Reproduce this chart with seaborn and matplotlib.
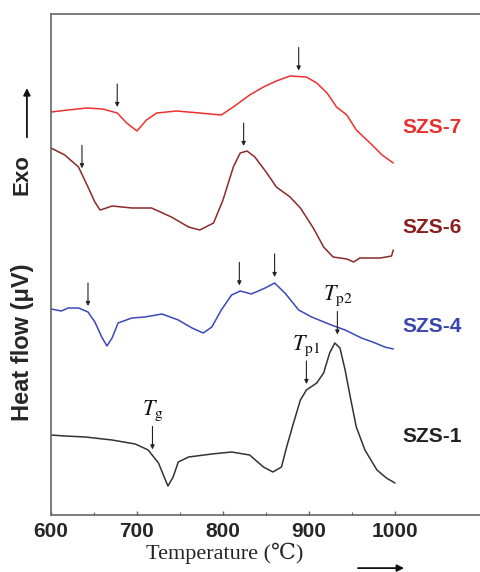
import numpy as np
import pandas as pd
import seaborn as sns
import matplotlib.pyplot as plt

# DSC traces (heat flow in arbitrary offset units)
temp_7 = [600, 620, 642, 660, 677, 688, 700, 711, 723, 746, 773, 798, 812, 831,
          847, 862, 878, 897, 909, 921, 932, 944, 955, 971, 985, 998]
flow_7 = [403, 405, 407, 406, 402, 392, 384, 395, 402, 404, 402, 400, 408, 420,
          428, 434, 439, 438, 432, 422, 408, 400, 385, 372, 360, 352]

temp_6 = [600, 616, 632, 643, 651, 657, 661, 671, 694, 717, 740, 760, 773, 789,
          800, 812, 820, 828, 837, 851, 862, 878, 890, 905, 917, 928, 944, 952,
          959, 983, 996, 998]
flow_6 = [367, 360, 348, 328, 313, 305, 306, 309, 307, 307, 298, 288, 285, 292,
          315, 348, 362, 364, 358, 342, 328, 318, 307, 287, 268, 258, 256, 253,
          257, 257, 259, 265]

temp_4 = [600, 612, 620, 632, 643, 651, 659, 665, 671, 678, 694, 709, 729, 748,
          764, 777, 787, 798, 810, 820, 833, 849, 860, 872, 888, 903, 926, 942,
          961, 977, 988, 998]
flow_4 = [206, 204, 207, 207, 203, 193, 178, 169, 177, 192, 197, 198, 201, 195,
          187, 182, 188, 205, 220, 224, 221, 227, 232, 222, 205, 198, 190, 185,
          177, 172, 168, 166]

temp_1 = [600, 616, 640, 671, 698, 713, 725, 733, 736, 742, 748, 760, 787, 810,
          831, 847, 858, 868, 874, 882, 890, 897, 909, 917, 924, 930, 936, 942,
          948, 955, 965, 979, 990, 1000]
flow_1 = [80, 79, 78, 75, 71, 65, 52, 35, 29, 38, 53, 58, 61, 63, 60, 48, 43, 48,
          68, 92, 115, 125, 132, 142, 162, 172, 167, 145, 118, 88, 65, 45, 37, 32]

samples = ['SZS-7', 'SZS-6', 'SZS-4', 'SZS-1']
temps = [temp_7, temp_6, temp_4, temp_1]
flows = [flow_7, flow_6, flow_4, flow_1]

# marked temperatures (arrows)
marks_7 = [677, 888]
marks_6 = [636, 824]
marks_4 = [643, 819, 860]
marks_1 = [718, 897, 933]
marks = [marks_7, marks_6, marks_4, marks_1]
mark_text_1 = [r'$T_{\mathrm{g}}$', r'$T_{\mathrm{p1}}$', r'$T_{\mathrm{p2}}$']

xticks = [600, 700, 800, 900, 1000]

palette = {'SZS-7': '#ee3030', 'SZS-6': '#8c2a2a', 'SZS-4': '#3a48b8', 'SZS-1': '#333333'}
label_colors = {'SZS-7': '#e8302e', 'SZS-6': '#8b1e1e', 'SZS-4': '#3a46b0', 'SZS-1': '#222222'}
label_y = {'SZS-7': 388, 'SZS-6': 288, 'SZS-4': 188, 'SZS-1': 78}

df = pd.concat([pd.DataFrame({'T': t, 'flow': f, 'sample': s})
                for s, t, f in zip(samples, temps, flows)], ignore_index=True)

sns.set_theme(style='white')
plt.rcParams['font.family'] = ['Liberation Sans', 'DejaVu Sans']
plt.rcParams['mathtext.fontset'] = 'stix'

fig = plt.figure(figsize=(4.81, 5.72), dpi=100)
ax = fig.add_axes([51/481, 57/572, 430/481, 501/572])

sns.lineplot(data=df, x='T', y='flow', hue='sample', palette=palette,
             estimator=None, sort=False, lw=1.1, legend=False, ax=ax)

ax.set_xlim(600, 1100)
ax.set_ylim(0, 501)

# arrows on the curves
for s, t, f, mk in zip(samples, temps, flows, marks):
    for i, m in enumerate(mk):
        gap = 11 if (s == 'SZS-1' and i == 2) else 6
        tip = np.interp(m, t, f) + gap
        tail = tip + 23
        ax.annotate('', xy=(m, tip), xytext=(m, tail),
                    arrowprops=dict(arrowstyle='-|>', color='#222222', lw=0.8,
                                    mutation_scale=6, shrinkA=0, shrinkB=0))
        if s == 'SZS-1':
            ax.text(m, tail + 3, mark_text_1[i], ha='center', va='bottom',
                    fontsize=16, color='#111111')

for s in samples:
    ax.text(1043, label_y[s], s, color=label_colors[s], fontsize=15,
            fontweight='bold', ha='center', va='center')

# axes styling
for side in ['left', 'top', 'bottom']:
    ax.spines[side].set_color('#666666')
    ax.spines[side].set_linewidth(1.2)
ax.spines['right'].set_visible(False)

ax.set_xticks(xticks)
ax.set_xticks([650, 750, 850, 950], minor=True)
ax.set_yticks([])
ax.tick_params(axis='x', which='major', direction='in', length=3, width=1,
               color='#666666', pad=5, labelsize=15, bottom=True)
ax.tick_params(axis='x', which='minor', direction='in', length=2, width=0.8,
               color='#666666', bottom=True)
for lab in ax.get_xticklabels():
    lab.set_fontweight('bold')

ax.set_xlabel('Temperature (℃)', fontsize=16,
              family=['Liberation Serif', 'DejaVu Serif'])
ax.xaxis.set_label_coords(0.405, -0.055)
ax.xaxis.label.set_va('top')

ax.set_ylabel('Heat flow (μV)', fontsize=17, fontweight='bold', va='center')
ax.yaxis.set_label_coords(-0.067, 0.345)
ax.text(-0.067, 0.679, 'Exo', transform=ax.transAxes, rotation=90,
        fontsize=16, fontweight='bold', ha='center', va='center')

ax.annotate('', xy=(-0.056, 0.852), xytext=(-0.056, 0.754),
            xycoords='axes fraction', textcoords='axes fraction',
            annotation_clip=False,
            arrowprops=dict(arrowstyle='-|>', color='#111111', lw=1.3,
                            mutation_scale=10, shrinkA=0, shrinkB=0))
ax.annotate('', xy=(0.821, -0.106), xytext=(0.714, -0.106),
            xycoords='axes fraction', textcoords='axes fraction',
            annotation_clip=False,
            arrowprops=dict(arrowstyle='-|>', color='#111111', lw=1.3,
                            mutation_scale=10, shrinkA=0, shrinkB=0))

fig.savefig('out.png', dpi=100)
